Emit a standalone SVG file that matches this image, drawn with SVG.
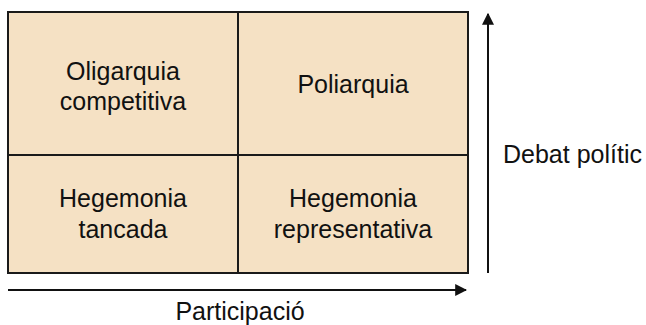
<svg xmlns="http://www.w3.org/2000/svg" width="646" height="325" viewBox="0 0 646 325">
<style>
.cell{fill:#F5E1C4;stroke:#1a1a1a;stroke-width:2}
.t{font-family:"Liberation Sans",Arial,sans-serif;font-size:25px;fill:#111;text-anchor:middle}
.ax{stroke:#111;stroke-width:2;fill:none}
</style>
<defs>
<marker id="ah" viewBox="0 0 10 10" refX="9" refY="5" markerWidth="6" markerHeight="6" markerUnits="strokeWidth" orient="auto">
<path d="M0,0 L10,5 L0,10 z" fill="#111"/>
</marker>
</defs>
<g id="oligarquia"><rect class="cell" x="8" y="12" width="230" height="143"/><text class="t" x="123" y="80">Oligarquia</text><text class="t" x="123" y="110">competitiva</text></g>
<g id="poliarquia"><rect class="cell" x="238" y="12" width="230" height="143"/><text class="t" x="353" y="93">Poliarquia</text></g>
<g id="hegemonia-tancada"><rect class="cell" x="8" y="155" width="230" height="118"/><text class="t" x="123" y="207">Hegemonia</text><text class="t" x="123" y="238">tancada</text></g>
<g id="hegemonia-representativa"><rect class="cell" x="238" y="155" width="230" height="118"/><text class="t" x="353" y="207">Hegemonia</text><text class="t" x="353" y="238">representativa</text></g>
<g id="connectors">
<line class="ax" x1="8" y1="290" x2="466" y2="290" marker-end="url(#ah)"/>
<line class="ax" x1="488" y1="273" x2="488" y2="14" marker-end="url(#ah)"/>
</g>
<text class="t" x="240" y="320">Participació</text>
<text class="t" x="503" y="163" style="text-anchor:start">Debat polític</text>
</svg>
